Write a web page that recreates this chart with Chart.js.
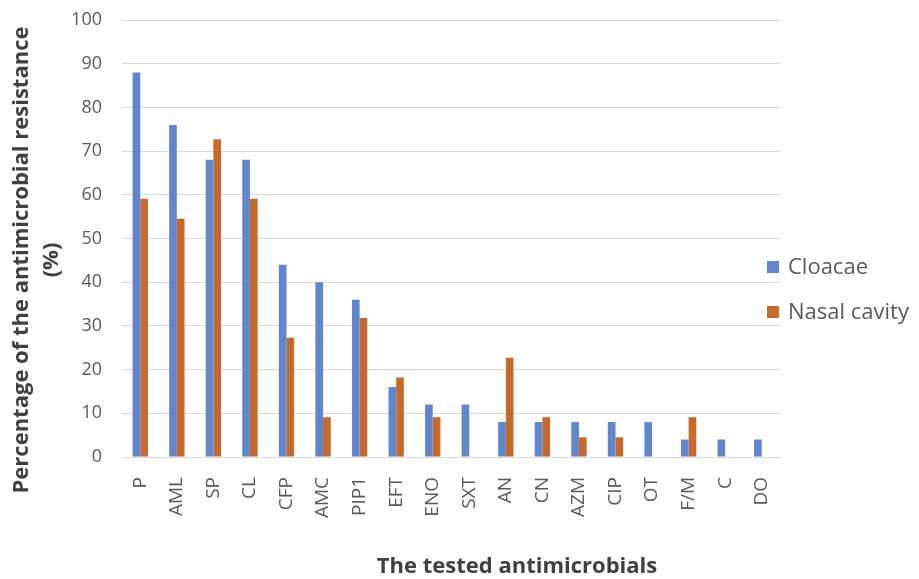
<!DOCTYPE html>
<html>
<head>
<meta charset="utf-8">
<script src="https://cdn.jsdelivr.net/npm/chart.js@4.4.1/dist/chart.umd.min.js"></script>
<style>
  html, body { margin: 0; padding: 0; background: #ffffff; }
  #wrap { position: relative; width: 919px; height: 579px; }
</style>
</head>
<body>
<div id="wrap"><canvas id="c" width="919" height="579"></canvas></div>
<script>
// Antimicrobials tested
const categories = ['P', 'AML', 'SP', 'CL', 'CFP', 'AMC', 'PIP1', 'EFT', 'ENO', 'SXT',
                    'AN', 'CN', 'AZM', 'CIP', 'OT', 'F/M', 'C', 'DO'];
// Resistance (%) by sampling site
const cloacae     = [88, 76, 68, 68, 44, 40, 36, 16, 12, 12, 8, 8, 8, 8, 8, 4, 4, 4];
const nasalCavity = [59.1, 54.5, 72.7, 59.1, 27.3, 9.1, 31.8, 18.2, 9.1, 0, 22.7, 9.1, 4.5, 4.5, 0, 9.1, 0, 0];
// Y axis ticks
const yTicks = [0, 10, 20, 30, 40, 50, 60, 70, 80, 90, 100];

const seriesNames = ['Cloacae', 'Nasal cavity'];
const xTitle = 'The tested antimicrobials';
const yTitle = ['Percentage of the antimicrobial resistance', '(%)'];

const BLUE = '#6186cb';
const ORANGE = '#c6692d';
const TEXT = '#595959';
const TITLE = '#404040';
const FONT = "'Open Sans', 'Noto Sans', sans-serif";

// Axis titles and the side legend drawn onto the canvas
const decorations = {
  id: 'decorations',
  afterDraw(chart) {
    const ctx = chart.ctx;
    ctx.save();
    // x axis title
    ctx.fillStyle = TITLE;
    ctx.font = `bold 22px ${FONT}`;
    ctx.textAlign = 'center';
    ctx.textBaseline = 'middle';
    ctx.fillText(xTitle, 517, 567);
    // y axis title, two centred lines
    ctx.font = `bold 22px ${FONT}`;
    ctx.translate(0, 260);
    ctx.rotate(-Math.PI / 2);
    ctx.fillText(yTitle[0], 0, 22);
    ctx.fillText(yTitle[1], 0, 52);
    ctx.restore();

    // legend
    ctx.save();
    ctx.font = `22px ${FONT}`;
    ctx.textAlign = 'left';
    ctx.textBaseline = 'middle';
    const rows = [267, 312];
    chart.data.datasets.forEach((ds, i) => {
      ctx.fillStyle = ds.backgroundColor;
      ctx.fillRect(767, rows[i] - 6, 12, 12);
      ctx.fillStyle = TEXT;
      ctx.fillText(ds.label, 788, rows[i] + 1);
    });
    ctx.restore();
  }
};

new Chart(document.getElementById('c'), {
  type: 'bar',
  data: {
    labels: categories,
    datasets: [
      { label: seriesNames[0], data: cloacae, backgroundColor: BLUE },
      { label: seriesNames[1], data: nasalCavity, backgroundColor: ORANGE }
    ]
  },
  options: {
    responsive: false,
    animation: false,
    devicePixelRatio: 1,
    layout: { padding: { left: 0, right: 139, top: 20, bottom: 0 } },
    datasets: { bar: { categoryPercentage: 0.42, barPercentage: 1.0 } },
    plugins: {
      legend: { display: false },
      tooltip: { enabled: false },
      title: { display: false }
    },
    scales: {
      x: {
        grid: { display: false, drawTicks: false },
        border: { display: true, color: '#d9d9d9', width: 1 },
        ticks: {
          color: TEXT,
          font: { family: FONT, size: 19 },
          minRotation: 90,
          maxRotation: 90,
          padding: 20,
          autoSkip: false
        },
        afterFit(scale) { scale.height = 579 - 457; scale.paddingLeft = 0; scale.paddingRight = 0; }
      },
      y: {
        min: 0,
        max: 100,
        afterBuildTicks(scale) { scale.ticks = yTicks.map(v => ({ value: v })); },
        grid: { color: '#d9d9d9', lineWidth: 1, drawTicks: false },
        border: { display: false },
        ticks: {
          color: TEXT,
          font: { family: FONT, size: 18 },
          padding: 20
        },
        afterFit(scale) { scale.width = 122; scale.paddingTop = 0; scale.paddingBottom = 0; }
      }
    }
  },
  plugins: [decorations]
});
</script>
</body>
</html>
